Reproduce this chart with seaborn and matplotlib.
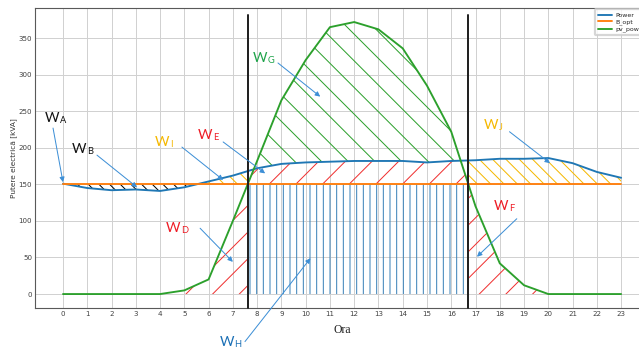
import numpy as np
import pandas as pd
import matplotlib
matplotlib.use('Agg')
import matplotlib.pyplot as plt
import seaborn as sns

# ---------------- data ----------------
hours = list(range(24))
power = [151, 145, 142, 143, 141, 146, 154, 162, 172, 178, 180, 181,
         182, 182, 182, 180, 182, 183, 185, 185, 186, 179, 167, 159]
b_opt = [150] * 24
pv_power = [0, 0, 0, 0, 0, 5, 20, 100, 182, 265, 320, 365,
            372, 362, 336, 285, 222, 120, 42, 12, 0, 0, 0, 0]
series_names = ['Power', 'B_opt', 'pv_power']
series_colors = ['#1f77b4', '#ff7f0e', '#2ca02c']

# annotation labels: (main, subscript, text position, arrow tail, arrow tip, colour)
labels = [
    ('W', 'A', (-0.45, 241), (-0.41, 227), (0.0, 153), '#111111'),
    ('W', 'B', (0.66, 198), (1.4, 190), (3.05, 146), '#111111'),
    ('W', 'I', (4.10, 208), (4.9, 201), (6.6, 156), '#f5b800'),
    ('W', 'E', (5.85, 217), (6.6, 208), (8.33, 165), '#ee1c25'),
    ('W', 'D', (4.55, 90), (5.65, 90), (7.0, 44), '#ee1c25'),
    ('W', 'G', (8.12, 323), (8.86, 316), (10.6, 270), '#1fa34a'),
    ('W', 'H', (6.74, -66), (7.5, -65), (10.2, 49), '#1a6fb5'),
    ('W', 'J', (17.64, 231), (18.4, 222), (20.07, 179), '#f5b800'),
    ('W', 'F', (18.07, 120), (18.7, 103), (17.06, 51), '#ee1c25'),
]

# ---------------- style ----------------
sns.set_theme(style='whitegrid')
plt.rcParams.update({
    'font.family': ['DejaVu Sans'],
    'axes.edgecolor': '0.35',
    'axes.linewidth': 0.5,
    'grid.color': '0.82',
    'grid.linewidth': 0.45,
    'hatch.linewidth': 0.45,
    'xtick.color': '0.25',
    'ytick.color': '0.25',
})

DPI = 160
fig = plt.figure(figsize=(639 / DPI, 352 / DPI), dpi=DPI)
ax = fig.add_axes([0.0549, 0.126, 0.9608, 0.850])

df = pd.DataFrame({
    'Ora': hours * 3,
    'val': power + b_opt + pv_power,
    'serie': [n for n in series_names for _ in hours],
})
sns.lineplot(data=df, x='Ora', y='val', hue='serie', hue_order=series_names,
             palette=series_colors, lw=0.85, ax=ax, zorder=4)

# ---------------- hatched regions ----------------
xf = np.linspace(0, 23, 4601)
pw = np.interp(xf, hours, power)
pv = np.interp(xf, hours, pv_power)
base = np.interp(xf, hours, b_opt)
cross = np.where(np.diff(np.sign(pv - base)) != 0)[0]
xa, xb = xf[cross[0]], xf[cross[-1]]
inside = (xf >= xa) & (xf <= xb)
outside = ~inside

common = dict(facecolor='none', linewidth=0, interpolate=True, zorder=1)
# W_B : load below B_opt
ax.fill_between(xf, pw, base, where=pw < base, hatch='\\' * 5, edgecolor='black', **common)
# W_I / W_J : load above B_opt outside PV window
ax.fill_between(xf, base, pw, where=outside & (pw > base), hatch='\\' * 4, edgecolor='#f5b800', **common)
# W_E : between B_opt and min(load, pv) inside PV window
ax.fill_between(xf, base, np.minimum(pw, pv), where=inside, hatch='//', edgecolor='#f03030', **common)
# W_G : PV surplus above load
ax.fill_between(xf, pw, pv, where=pv > pw, hatch='\\\\', edgecolor='#2ca02c', **common)
# W_D / W_F : PV below B_opt outside window
ax.fill_between(xf, 0, pv, where=(xf <= xa) & (pv > 0), hatch='//', edgecolor='#f03030', **common)
ax.fill_between(xf, 0, pv, where=(xf >= xb) & (pv > 0), hatch='//', edgecolor='#f03030', **common)
# W_H : B_opt band inside window
ax.fill_between(xf, 0, base, where=inside, hatch='||||', edgecolor='#3b82b8', **common)

# window boundaries
for xv in (xa, xb):
    ax.axvline(xv, ymin=0.0, ymax=0.979, color='#222222', lw=0.9, zorder=5, clip_on=False)

# ---------------- axes ----------------
ax.set_xticks(hours)
ax.set_yticks(range(0, 351, 50))
ax.tick_params(axis='both', labelsize=3.2, pad=1.4, length=0)
ax.set_xlabel('Ora', fontsize=5.3, family='Liberation Serif', color='#222222')
ax.xaxis.set_label_coords(0.5, -0.055)
ax.set_ylabel('Putere electrică [kVA]', fontsize=3.3, color='#333333')
ax.yaxis.set_label_coords(-0.029, 0.5)
ax.margins(x=0.05, y=0.05)
for s in ax.spines.values():
    s.set_visible(True)

handles, labs = ax.get_legend_handles_labels()
ax.legend(handles=handles, labels=labs, loc='upper left', bbox_to_anchor=(0.912, 0.997),
          borderaxespad=0, fontsize=2.8, frameon=True, handlelength=2.25,
          handletextpad=0.5, borderpad=0.5, labelspacing=0.2)

# ---------------- annotations ----------------
for main, sub, tpos, tail, tip, col in labels:
    ax.annotate('', xy=tip, xytext=tail, xycoords='data',
                arrowprops=dict(arrowstyle='-|>', color='#3d8fd6', lw=0.45,
                                mutation_scale=4.5, shrinkA=0, shrinkB=0),
                annotation_clip=False, zorder=6)
    t = ax.text(tpos[0], tpos[1], main, color=col, fontsize=6.3, family='Lato',
                ha='center', va='center', clip_on=False, zorder=6)
    ax.annotate(sub, xy=(1.0, 0.0), xycoords=t, xytext=(0.2, -0.4), textcoords='offset points',
                color=col, fontsize=4.2, family='Lato', ha='left', va='bottom',
                annotation_clip=False, zorder=6)

fig.savefig('out.png', dpi=DPI)
